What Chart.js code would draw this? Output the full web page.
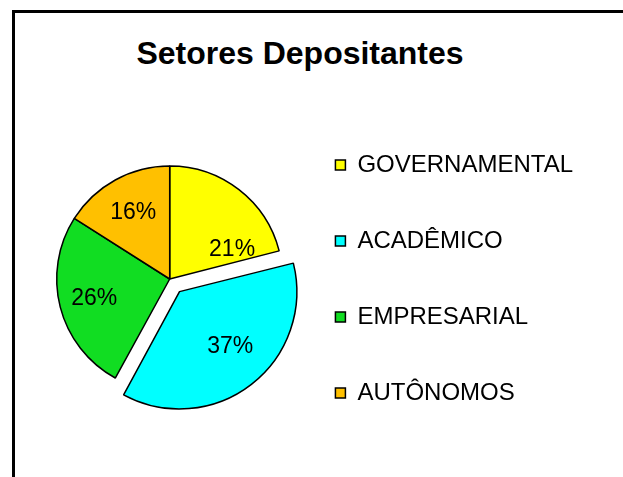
<!DOCTYPE html>
<html>
<head>
<meta charset="utf-8">
<title>Setores Depositantes</title>
<script src="https://cdn.jsdelivr.net/npm/chart.js@4/dist/chart.umd.min.js"></script>
<style>
    html, body { margin: 0; padding: 0; background: #fff; overflow: hidden; }
    body { width: 623px; height: 477px; position: relative; }
    .frame {
        position: absolute; left: 12px; top: 10px;
        width: 700px; height: 600px;
        border: 3px solid #000;
    }
    .title {
        position: absolute; left: 0; top: 38px; width: 600px;
        text-align: center;
        font: bold 32px "Liberation Sans", Arial, sans-serif;
        line-height: 31px;
        color: #000;
    }
    #chart { position: absolute; left: 0; top: 0; }
</style>
</head>
<body>
<div class="frame"></div>
<div class="title">Setores Depositantes</div>
<canvas id="chart" width="623" height="477"></canvas>

<script>
// ── Data ────────────────────────────────────────────────────────────────
const sectors = ['GOVERNAMENTAL', 'ACADÊMICO', 'EMPRESARIAL', 'AUTÔNOMOS'];
const shares  = [21, 37, 26, 16];   // percent
const colors  = ['#FFFF00', '#00FFFF', '#11DD22', '#FFC000'];
const pulled  = [0, 64, 0, 0];      // arc offset (Chart.js moves the slice by offset / 4)

// ── Percent labels inside slices ────────────────────────────────────────
const sliceLabels = {
    id: 'sliceLabels',
    afterDatasetsDraw: function (chart, args, opts) {
        const ctx  = chart.ctx;
        const meta = chart.getDatasetMeta(0);
        ctx.save();
        ctx.font = opts.font;
        ctx.fillStyle = '#000';
        ctx.textAlign = 'center';
        ctx.textBaseline = 'middle';
        meta.data.forEach(function (arc, i) {
            const p     = arc.getProps(['x', 'y', 'startAngle', 'endAngle', 'outerRadius']);
            const shift = (opts.angleShift[i] || 0) * Math.PI / 180;
            const mid   = (p.startAngle + p.endAngle) / 2;
            const off   = (arc.options.offset || 0) / 4;
            const frac  = opts.radius[i];
            const cx = p.x + Math.cos(mid) * off;
            const cy = p.y + Math.sin(mid) * off;
            const a  = mid + shift;
            ctx.fillText(shares[i] + '%',
                cx + Math.cos(a) * p.outerRadius * frac,
                cy + Math.sin(a) * p.outerRadius * frac);
        });
        ctx.restore();
    }
};

new Chart(document.getElementById('chart'), {
    type: 'pie',
    data: {
        labels: sectors,
        datasets: [{
            data: shares,
            backgroundColor: colors,
            borderColor: '#000',
            borderWidth: 1.5,
            offset: pulled
        }]
    },
    options: {
        responsive: false,
        animation: false,
        radius: 113,
        layout: { padding: { left: 56, right: 40, top: 91, bottom: 10 } },
        plugins: {
            title: { display: false },
            tooltip: { enabled: false },
            legend: {
                position: 'right',
                align: 'center',
                maxWidth: 400,
                labels: {
                    color: '#000',
                    boxWidth: 10,
                    boxHeight: 10,
                    padding: 52,
                    font: { family: '"Liberation Sans", Arial, sans-serif', size: 24 }
                }
            },
            sliceLabels: {
                font: '23px "Liberation Sans", Arial, sans-serif',
                radius: [0.61, 0.66, 0.69, 0.67],
                angleShift: [27, -5, 0, 0]
            }
        }
    },
    plugins: [sliceLabels]
});
</script>
</body>
</html>
